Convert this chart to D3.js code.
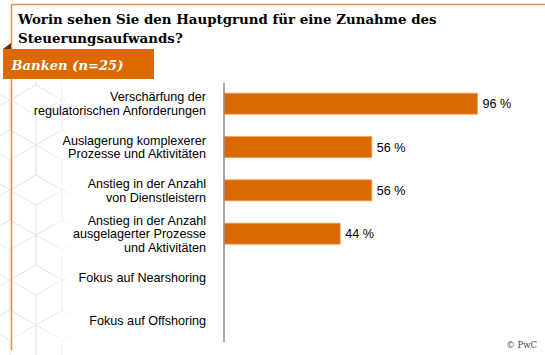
<!DOCTYPE html>
<html><head><meta charset="utf-8">
<script src="https://cdn.jsdelivr.net/npm/d3@7"></script>
<style>html,body{margin:0;padding:0;background:#fff;}svg{display:block;}</style>
</head><body>
<svg id="c" width="545" height="355"></svg>
<script>
const titleLines = ["Worin sehen Sie den Hauptgrund für eine Zunahme des", "Steuerungsaufwands?"];
const subtitle = "Banken (n=25)";
const categories = [
  "Verschärfung der\nregulatorischen Anforderungen",
  "Auslagerung komplexerer\nProzesse und Aktivitäten",
  "Anstieg in der Anzahl\nvon Dienstleistern",
  "Anstieg in der Anzahl\nausgelagerter Prozesse\nund Aktivitäten",
  "Fokus auf Nearshoring",
  "Fokus auf Offshoring"
];
const values = [96, 56, 56, 44, null, null];
const valueLabels = ["96 %", "56 %", "56 %", "44 %", "", ""];
const credit = "© PwC";

const svg = d3.select("#c");
const W = 545, H = 355;
const orange = "#DC6900";
const frame = "#E8904A";

// decorative cube pattern (background)
const defs = svg.append("defs");
defs.append("clipPath").attr("id","pclip").append("rect").attr("x",0).attr("y",82).attr("width",80).attr("height",273);
const g2 = defs.append("linearGradient").attr("id","fadeMask").attr("x1","0").attr("x2","1");
g2.append("stop").attr("offset","0").attr("stop-color","#fff");
g2.append("stop").attr("offset","0.6").attr("stop-color","#fff");
g2.append("stop").attr("offset","1").attr("stop-color","#000");
const mask = defs.append("mask").attr("id","pmask");
mask.append("rect").attr("x",0).attr("y",0).attr("width",80).attr("height",H).attr("fill","url(#fadeMask)");
const pat = svg.append("g").attr("clip-path","url(#pclip)").attr("mask","url(#pmask)")
  .attr("fill","none").attr("stroke","#e8e8e8").attr("stroke-width",1);
const r = 30, hw = r*Math.sqrt(3);
let pd = "";
for (let row = 0; row < 8; row++) {
  for (let col = -1; col < 3; col++) {
    const cx = col*hw + (row%2 ? hw/2 : 0) + 10;
    const cy = 70 + row*r*1.5;
    const pts = d3.range(6).map(i => { const a = Math.PI/180*(60*i - 90); return [cx + r*Math.cos(a), cy + r*Math.sin(a)]; });
    pd += "M" + pts.map(p => p.join(",")).join("L") + "Z";
    [1,3,5].forEach(i => { pd += "M"+cx+","+cy+"L"+pts[i].join(","); });
  }
}
pat.append("path").attr("d", pd);

// frame lines
svg.append("line").attr("x1",11.5).attr("x2",W).attr("y1",4.5).attr("y2",4.5).attr("stroke",frame).attr("stroke-width",1.5);
svg.append("line").attr("x1",11.5).attr("x2",11.5).attr("y1",4.5).attr("y2",350).attr("stroke",frame).attr("stroke-width",1.5);

// title
const tFont = "Georgia, 'DejaVu Serif', serif";
const tg = svg.append("g");
titleLines.forEach((t,i) => {
  tg.append("text").attr("x",18).attr("y",24 + i*18.5).attr("font-family",tFont)
    .attr("font-weight","bold").attr("font-size",15.5).attr("fill","#000").text(t);
});
const tl = tg.select("text").node().getComputedTextLength();
const tScale = 419 / tl;
tg.selectAll("text").attr("font-size", 15.5*tScale);

// banner
svg.append("path").attr("d","M3,49L11,43L11,49Z").attr("fill","#5a3414");
svg.append("rect").attr("x",3).attr("y",49).attr("width",151).attr("height",30).attr("fill",orange);
const bt = svg.append("text").attr("x",11.5).attr("y",70).attr("font-family",tFont)
  .attr("font-weight","bold").attr("font-style","italic").attr("font-size",16).attr("fill","#fff").text(subtitle);
const bl = bt.node().getComputedTextLength();
bt.attr("font-size", 16*112/bl);

// scales
const x = d3.scaleLinear().domain([0,100]).range([224, 488]);
const y = d3.scaleBand().domain(categories).range([82, 342]).paddingInner(0.515).paddingOuter(0.2575);

const lblFont = "Arial, 'Liberation Sans', sans-serif";
const rows = categories.map((c,i)=>({c, v: values[i], l: valueLabels[i]}));
// bars
svg.append("g").selectAll("rect").data(rows.filter(d => d.v != null))
  .join("rect")
  .attr("x", x(0)).attr("y", d => y(d.c)).attr("width", d => x(d.v) - x(0)).attr("height", y.bandwidth())
  .attr("fill", orange).attr("stroke","#F0A060").attr("stroke-width",0.8);

// value labels
svg.append("g").selectAll("text").data(rows.filter(d => d.v != null))
  .join("text")
  .attr("x", d => x(d.v) + 5).attr("y", d => y(d.c) + y.bandwidth()/2).attr("dy","0.36em")
  .attr("font-family", lblFont).attr("font-size",12.6).attr("fill","#000").text(d => d.l);

// category labels
const lh = 13.6;
categories.forEach(c => {
  const lines = c.split("\n");
  const cy = y(c) + y.bandwidth()/2;
  const t = svg.append("text").attr("text-anchor","end").attr("font-family",lblFont).attr("font-size",12.6).attr("fill","#000");
  lines.forEach((ln,i) => {
    t.append("tspan").attr("x",206).attr("y", cy + (i - (lines.length-1)/2)*lh).attr("dy","0.36em").text(ln);
  });
});

// axis line
svg.append("line").attr("x1",224).attr("x2",224).attr("y1",83).attr("y2",342).attr("stroke","#8c8c8c").attr("stroke-width",1.5);

// credit
svg.append("text").attr("x",537).attr("y",348).attr("text-anchor","end").attr("font-family",tFont)
  .attr("font-size",8.5).attr("fill","#444").text(credit);
</script>
</body></html>
